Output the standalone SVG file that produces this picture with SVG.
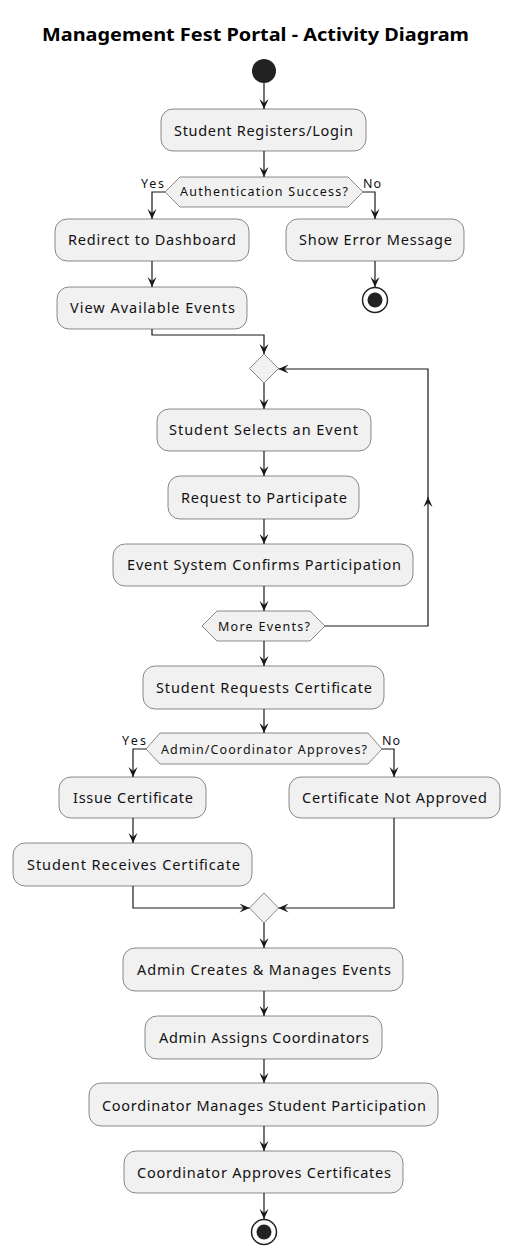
<svg xmlns="http://www.w3.org/2000/svg" width="512" height="1258" viewBox="0 0 512 1258">
<style>
.n{fill:#F1F1F1;stroke:#181818;stroke-width:0.5}
.t{font-family:"Noto Sans","DejaVu Sans",sans-serif;font-size:14.5px;fill:#111}
.d{font-family:"Noto Sans","DejaVu Sans",sans-serif;font-size:12.5px;fill:#111}
.title{font-family:"Noto Sans","DejaVu Sans",sans-serif;font-size:18px;font-weight:bold;fill:#000}
.c{fill:none;stroke:#181818;stroke-width:1.2;marker-end:url(#ah)}
</style>
<defs>
<marker id="ah" viewBox="-11 -5 12 10" refX="0" refY="0" markerWidth="12" markerHeight="10" markerUnits="userSpaceOnUse" orient="auto">
<path d="M0,0 L-10,-4.5 L-6,0 L-10,4.5 Z" fill="#181818"/>
</marker>
</defs>
<rect width="512" height="1258" fill="#FFFFFF"/>
<text class="title" x="42" y="41" textLength="427" lengthAdjust="spacingAndGlyphs">Management Fest Portal - Activity Diagram</text>

<g id="start"><circle cx="264" cy="71" r="12" fill="#222222"/></g>

<g id="n1"><rect class="n" x="161" y="109" width="205" height="42" rx="12"/><text class="t" x="174" y="136" textLength="179" lengthAdjust="spacing">Student Registers/Login</text></g>
<g id="d1"><polygon class="n" points="165,192 180,177 348,177 363,192 348,207 180,207"/><text class="d" x="180" y="196" textLength="168" lengthAdjust="spacing">Authentication Success?</text>
<text class="d" x="141" y="188" textLength="23" lengthAdjust="spacing">Yes</text><text class="d" x="363" y="188" textLength="18" lengthAdjust="spacing">No</text></g>
<g id="n2"><rect class="n" x="55" y="219" width="194" height="42" rx="12"/><text class="t" x="68" y="245" textLength="168" lengthAdjust="spacing">Redirect to Dashboard</text></g>
<g id="n3"><rect class="n" x="286" y="219" width="178" height="42" rx="12"/><text class="t" x="299" y="245" textLength="153" lengthAdjust="spacing">Show Error Message</text></g>
<g id="end1"><circle cx="375" cy="300" r="12.5" fill="#FFFFFF" stroke="#222222" stroke-width="1.5"/><circle cx="375" cy="300" r="7.5" fill="#222222"/></g>
<g id="n4"><rect class="n" x="57" y="287" width="190" height="42" rx="12"/><text class="t" x="70" y="313" textLength="165" lengthAdjust="spacing">View Available Events</text></g>
<g id="m1"><polygon class="n" points="264,354 278.5,368.5 264,383 249.5,368.5"/></g>
<g id="n5"><rect class="n" x="157" y="409" width="214" height="42" rx="12"/><text class="t" x="169" y="435" textLength="189" lengthAdjust="spacing">Student Selects an Event</text></g>
<g id="n6"><rect class="n" x="168" y="476" width="191" height="43" rx="12"/><text class="t" x="181" y="503" textLength="166" lengthAdjust="spacing">Request to Participate</text></g>
<g id="n7"><rect class="n" x="113" y="544" width="300" height="42" rx="12"/><text class="t" x="127" y="570" textLength="274" lengthAdjust="spacing">Event System Confirms Participation</text></g>
<g id="d2"><polygon class="n" points="202,626 217,611 310,611 325,626 310,641 217,641"/><text class="d" x="218" y="631" textLength="92" lengthAdjust="spacing">More Events?</text></g>
<g id="n8"><rect class="n" x="143" y="666" width="241" height="43" rx="12"/><text class="t" x="156" y="693" textLength="216" lengthAdjust="spacing">Student Requests Certificate</text></g>
<g id="d3"><polygon class="n" points="146,749 160,733 368,733 382,749 368,764 160,764"/><text class="d" x="161" y="754" textLength="206" lengthAdjust="spacing">Admin/Coordinator Approves?</text>
<text class="d" x="122" y="745" textLength="24" lengthAdjust="spacing">Yes</text><text class="d" x="382" y="745" textLength="18" lengthAdjust="spacing">No</text></g>
<g id="n9"><rect class="n" x="59" y="777" width="147" height="41" rx="12"/><text class="t" x="73" y="803" textLength="120" lengthAdjust="spacing">Issue Certificate</text></g>
<g id="n10"><rect class="n" x="289" y="777" width="211" height="41" rx="12"/><text class="t" x="302" y="803" textLength="185" lengthAdjust="spacing">Certificate Not Approved</text></g>
<g id="n11"><rect class="n" x="13" y="843" width="239" height="43" rx="12"/><text class="t" x="27" y="870" textLength="213" lengthAdjust="spacing">Student Receives Certificate</text></g>
<g id="m2"><polygon class="n" points="264,893 278.5,908 264,923 249.5,908"/></g>
<g id="n12"><rect class="n" x="123" y="948" width="280" height="43" rx="12"/><text class="t" x="137" y="975" textLength="254" lengthAdjust="spacing">Admin Creates &amp; Manages Events</text></g>
<g id="n13"><rect class="n" x="145" y="1016" width="237" height="43" rx="12"/><text class="t" x="159" y="1043" textLength="210" lengthAdjust="spacing">Admin Assigns Coordinators</text></g>
<g id="n14"><rect class="n" x="89" y="1083" width="349" height="43" rx="12"/><text class="t" x="102" y="1111" textLength="324" lengthAdjust="spacing">Coordinator Manages Student Participation</text></g>
<g id="n15"><rect class="n" x="124" y="1151" width="279" height="42" rx="12"/><text class="t" x="137" y="1178" textLength="254" lengthAdjust="spacing">Coordinator Approves Certificates</text></g>
<g id="end2"><circle cx="264" cy="1232" r="12.5" fill="#FFFFFF" stroke="#222222" stroke-width="1.5"/><circle cx="264" cy="1232" r="7.5" fill="#222222"/></g>

<g id="connectors">
<path class="c" d="M264,83 L264,109"/>
<path class="c" d="M264,151 L264,177"/>
<path class="c" d="M165,192 L152,192 L152,219"/>
<path class="c" d="M363,192 L375,192 L375,219"/>
<path class="c" d="M152,261 L152,287"/>
<path class="c" d="M375,261 L375,287"/>
<path class="c" d="M152,329 L152,335 L264,335 L264,354"/>
<path class="c" d="M264,383 L264,409"/>
<path class="c" d="M264,451 L264,476"/>
<path class="c" d="M264,519 L264,544"/>
<path class="c" d="M264,586 L264,611"/>
<path class="c" d="M325,626 L428,626 L428,497"/>
<path class="c" d="M428,498 L428,369 L278.5,369"/>
<path class="c" d="M264,641 L264,666"/>
<path class="c" d="M264,709 L264,733"/>
<path class="c" d="M146,749 L133,749 L133,777"/>
<path class="c" d="M382,749 L394,749 L394,777"/>
<path class="c" d="M133,818 L133,843"/>
<path class="c" d="M133,886 L133,908 L249.5,908"/>
<path class="c" d="M394,818 L394,908 L278.5,908"/>
<path class="c" d="M264,923 L264,948"/>
<path class="c" d="M264,991 L264,1016"/>
<path class="c" d="M264,1059 L264,1083"/>
<path class="c" d="M264,1126 L264,1151"/>
<path class="c" d="M264,1193 L264,1219"/>
</g>
</svg>
